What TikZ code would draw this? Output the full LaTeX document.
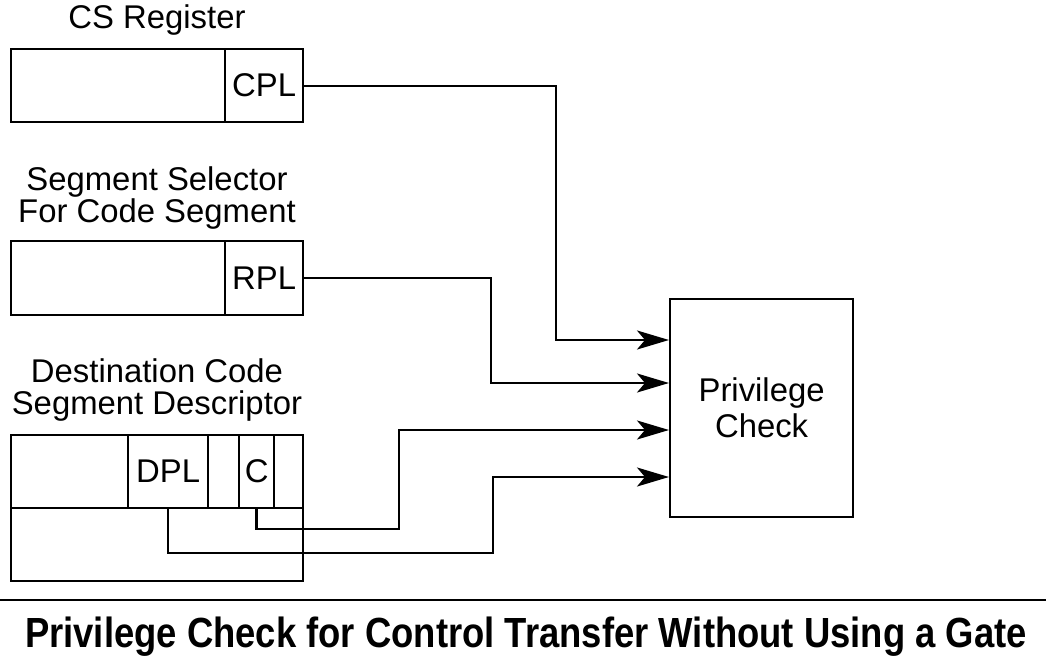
\documentclass[tikz,border=0pt]{standalone}
\usepackage{fontspec}
\setmainfont{Liberation Sans}
\usetikzlibrary{arrows.meta}
\tikzstyle{field} = [draw, line width=1.3pt, inner sep=0pt, anchor=north west, font=\fontsize{18.7}{20.5}\selectfont]
\tikzstyle{label} = [align=center, font=\fontsize{18.7}{18.5}\selectfont]
\tikzstyle{arrow} = [line width=1.3pt, -{Stealth[length=6.4mm, width=3.8mm, inset=1.6mm]}]

\begin{document}
\begin{tikzpicture}[x=0.02cm, y=-0.02cm]
        \useasboundingbox (0,0) rectangle (1046,664);

        %CS register
        \node at (157,20) [label] (cslabel) {CS Register};
        \node at (10,48) [field, minimum width=4.28cm, minimum height=1.46cm] (csbase) {};
        \node at (224,48) [field, minimum width=1.56cm, minimum height=1.46cm] (cpl) {CPL};

        %selector
        \node at (157,198) [label] (sellabel) {Segment Selector\\For Code Segment};
        \node at (10,240) [field, minimum width=4.28cm, minimum height=1.48cm] (selbase) {};
        \node at (224,240) [field, minimum width=1.56cm, minimum height=1.48cm] (rpl) {RPL};

        %descriptor
        \node at (157,390) [label] (desclabel) {Destination Code\\Segment Descriptor};
        \node at (10,434) [field, minimum width=2.34cm, minimum height=1.46cm] (d0) {};
        \node at (127,434) [field, minimum width=1.6cm, minimum height=1.46cm] (dpl) {DPL};
        \node at (207,434) [field, minimum width=0.62cm, minimum height=1.46cm] (d1) {};
        \node at (238,434) [field, minimum width=0.7cm, minimum height=1.46cm] (cbit) {C};
        \node at (273,434) [field, minimum width=0.58cm, minimum height=1.46cm] (d2) {};
        \node at (10,507) [field, minimum width=5.84cm, minimum height=1.46cm] (dlow) {};

        %check
        \node at (669,298) [field, minimum width=3.66cm, minimum height=4.36cm, align=center] (chk) {Privilege\\Check};
        \coordinate (in1) at (chk.west |- 0,340);
        \coordinate (in2) at (chk.west |- 0,383);
        \coordinate (in3) at (chk.west |- 0,430);
        \coordinate (in4) at (chk.west |- 0,477);

        %Arrows
        \draw [arrow] (cpl.east) -| (556,340) -- (in1);
        \draw [arrow] (rpl.east) -| (491,383) -- (in2);
        \draw [arrow] (cbit.south) -- ++(0,20) -| (399,430) -- (in3);
        \draw [arrow] (dpl.south) -- ++(0,44) -| (493,477) -- (in4);

        %caption
        \draw [line width=1.5pt] (0,600) -- (1046,600);
        \node at (526,637) [text centered] (caption) {\resizebox{20.04cm}{\height}{\fontsize{24}{28}\selectfont\bfseries Privilege Check for Control Transfer Without Using a Gate}};

\end{tikzpicture}
\end{document}
